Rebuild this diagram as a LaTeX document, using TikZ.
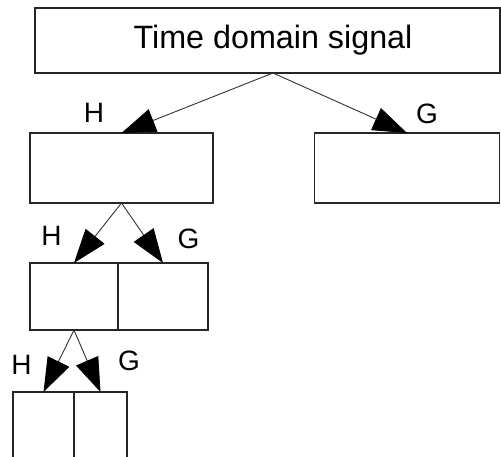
\documentclass[tikz,border=0pt]{standalone}
\usepackage{fontspec}
\setmainfont{Liberation Sans}
\usetikzlibrary{arrows.meta}
\begin{document}
\begin{tikzpicture}[x=1pt,y=-1pt,
  box/.style={draw=black!85, line width=1.4pt, rectangle, inner sep=0pt, outer sep=0pt},
  branch/.style={draw=black!80, line width=0.9pt,
    -{Triangle[length=34pt,width=24pt,color=black]}},
  tag/.style={font=\fontsize{28}{32}\selectfont, inner sep=0pt}]
  \clip (0,0) rectangle (501,457);
  \fill[white] (0,0) rectangle (501,457);

  % root
  \node[box, minimum width=465pt, minimum height=65pt,
        font=\fontsize{32.3}{38}\selectfont] (root) at (267.5,40.5)
        {\hspace*{11pt}Time domain signal};
  \coordinate (s0) at (273,73);

  % first level
  \node[box, minimum width=183pt, minimum height=70pt] (h1) at (121.5,168) {};
  \node[box, minimum width=185pt, minimum height=70pt] (g1) at (407,168) {};
  \draw[branch] (s0) -- (h1.north);
  \draw[branch] (s0) -- (g1.north);
  \node[tag] (lh1) at (94,113) {H};
  \node[tag] (lg1) at (427,114) {G};

  % second level
  \node[box, minimum width=88pt, minimum height=67pt] (h2) at (74,296.5) {};
  \node[box, minimum width=90pt, minimum height=67pt] (g2) at (163,296.5) {};
  \draw[branch] (h1.south) -- (h2.north);
  \draw[branch] (h1.south) -- (g2.north);
  \node[tag] (lh2) at (51.5,236) {H};
  \node[tag] (lg2) at (188.5,238.5) {G};

  % third level
  \node[box, minimum width=61pt, minimum height=90pt] (h3) at (43.5,437) {};
  \node[box, minimum width=53pt, minimum height=90pt] (g3) at (100.5,437) {};
  \draw[branch] (h2.south) -- (h3.north);
  \draw[branch] (h2.south) -- (g3.north);
  \node[tag] (lh3) at (21.5,365) {H};
  \node[tag] (lg3) at (129,360.5) {G};
\end{tikzpicture}
\end{document}
